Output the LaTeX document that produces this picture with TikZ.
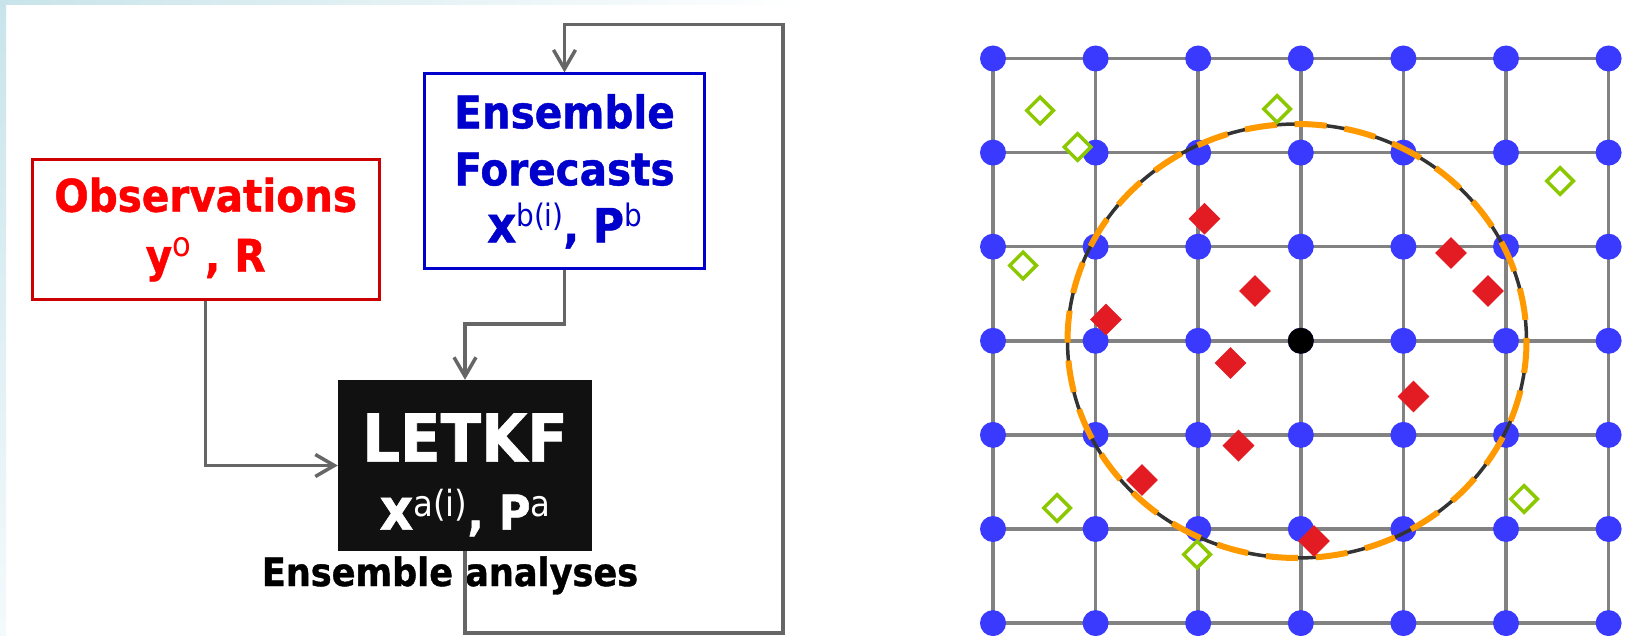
\documentclass[tikz,border=0pt]{standalone}
\usepackage{fontspec}
\setmainfont{DejaVu Sans}[FakeStretch=0.9, BoldFeatures={FakeBold=1}]
\usetikzlibrary{shapes.geometric, arrows.meta, positioning}
\definecolor{obsred}{HTML}{FF0000}
\definecolor{obsframe}{HTML}{CC0000}
\definecolor{fcstblue}{HTML}{0000CC}
\definecolor{boxblack}{HTML}{111111}
\definecolor{wiregray}{HTML}{666666}
\definecolor{gridgray}{HTML}{828282}
\definecolor{ptblue}{HTML}{3A3AFF}
\definecolor{usedred}{HTML}{E31B23}
\definecolor{farlime}{HTML}{8CC800}
\definecolor{locorange}{HTML}{FF9900}
\definecolor{locink}{HTML}{333333}
\definecolor{edgecyan}{HTML}{C8E4EA}
\definecolor{edgepale}{HTML}{F4FAFC}
% raised index in upright weight: [raise]{size}{text}
\newcommand{\upr}[3][15]{\raisebox{#1pt}{\fontsize{#2}{#2}\mdseries\selectfont #3}}
\newcommand{\bigx}[1]{{\fontsize{#1}{#1}\selectfont x}}
\tikzset{
  inbox/.style     = {rectangle, line width=3pt, fill=white, align=center, inner sep=0pt},
  obsbox/.style    = {inbox, draw=obsframe, text=obsred, font=\fontsize{45}{60}\selectfont\bfseries,
                      minimum width=347pt, minimum height=140pt},
  fcstbox/.style   = {inbox, draw=fcstblue, text=fcstblue, font=\fontsize{45}{57}\selectfont\bfseries,
                      minimum width=280pt, minimum height=195pt},
  filterbox/.style = {rectangle, fill=boxblack, text=white, align=center,
                      font=\fontsize{66}{68}\selectfont\bfseries,
                      inner sep=0pt, minimum width=254pt, minimum height=171pt},
  caption/.style   = {font=\fontsize{39}{42}\selectfont\bfseries, inner sep=0pt},
  flow/.style      = {-{Straight Barb[length=19pt, width=22pt]}, line width=3.5pt, draw=wiregray},
  gridline/.style  = {line width=3.5pt, draw=gridgray},
  gridpt/.style    = {circle, fill=ptblue, minimum size=26pt, inner sep=0pt},
  centerpt/.style  = {circle, fill=black, minimum size=26pt, inner sep=0pt},
  usedob/.style    = {diamond, fill=usedred, minimum size=32pt, inner sep=0pt},
  farob/.style     = {diamond, draw=farlime, fill=white, line width=3.5pt,
                      minimum size=28pt, inner sep=0pt},
}

\begin{document}
\begin{tikzpicture}[x=1pt, y=-1pt]
  \useasboundingbox (0,0) rectangle (1625,636);
  \fill[white] (0,0) rectangle (1625,636);
  \shade[top color=edgecyan, bottom color=edgepale] (0,0) rectangle (6,636);
  \shade[left color=edgecyan, right color=white] (0,0) rectangle (800,5);

  % flow chart
  \node[obsbox] (obs) at (205.7,229.5) {Observations\\ y\upr{34}{o} , R};
  \node[fcstbox] (fcst) at (564.5,171.4)
    {Ensemble\\ Forecasts\\ \bigx{50}\upr[16]{31}{b(i)}, {\fontsize{47}{47}\selectfont P}\upr[16]{31}{b}};
  \node[filterbox] (letkf) at (465,465.5)
    {\rule{0pt}{67pt}LETKF\\
     \fontsize{48}{68}\selectfont \bigx{58}\upr[13]{36}{a(i)}, P\upr[13]{36}{a}};
  \node[caption, below=5pt of letkf, xshift=-15pt] (anl) {Ensemble analyses};

  \coordinate (loopbot) at (783,633);
  \coordinate (looptop) at (783,24.3);
  \draw[flow] (obs.south) |- (letkf.west);
  \draw[flow] (fcst.south) -- ++(0,53.5) -| (letkf.north);
  \draw[flow] (letkf.south) |- (loopbot) -- (looptop) -| (fcst.north);

  % model grid
  \foreach \i in {0,...,6} {
    \draw[gridline] ({993+102.6*\i},58.5) -- ({993+102.6*\i},623.1);
    \draw[gridline] (993,{58.5+94.1*\i}) -- (1608.6,{58.5+94.1*\i});
  }
  \foreach \i in {0,...,6}
    \foreach \j in {0,...,6}
      \node[gridpt] (g\i\j) at ({993+102.6*\i},{58.5+94.1*\j}) {};
  \node[centerpt] (ctr) at (g33) {};

  % local region
  \draw[line width=3.5pt, draw=locink] (1297,341) ellipse [x radius=229.5, y radius=217];
  \draw[line width=6pt, draw=locorange, dash pattern=on 32pt off 18pt]
    (1297,341) ellipse [x radius=229.5, y radius=217];

  % observations
  \foreach \p [count=\k] in {(1040,110.5), (1077.5,147), (1277,109), (1560,181),
      (1023,265.5), (1057,508), (1197,554.5), (1524,499)}
    \node[farob] (far\k) at \p {};
  \foreach \p [count=\k] in {(1204.5,218.7), (1255,291), (1106,319.5), (1230.5,363),
      (1451,253), (1488,291), (1413.5,396.5), (1238.5,445.6), (1142,480), (1314,541)}
    \node[usedob] (used\k) at \p {};
\end{tikzpicture}
\end{document}
